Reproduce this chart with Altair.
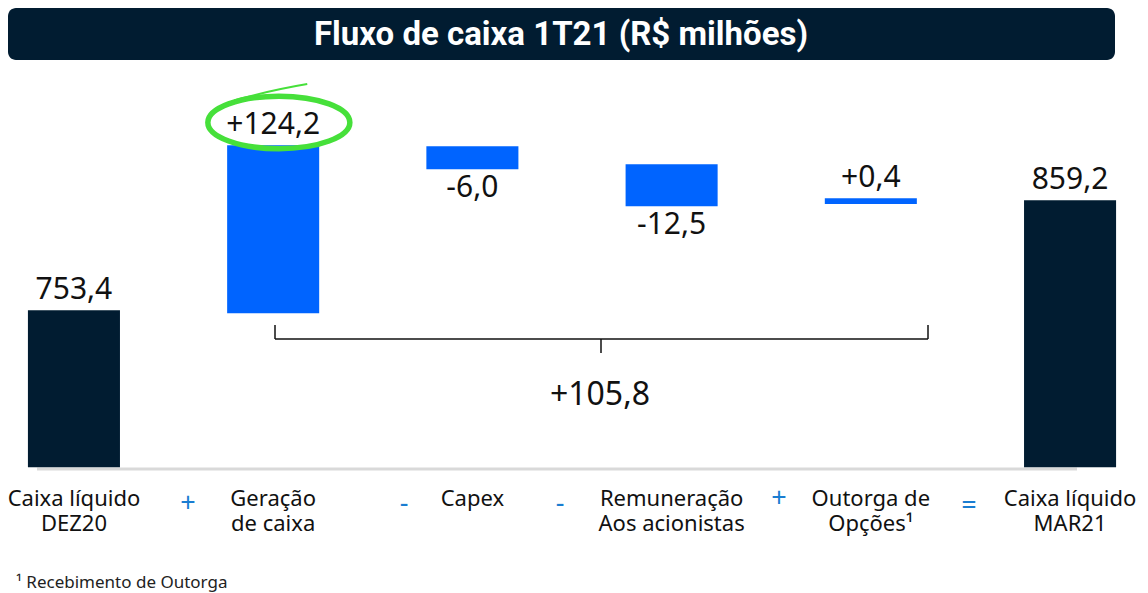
import altair as alt
import pandas as pd

# ---------------- data ----------------
categories = ["Caixa líquido DEZ20", "Geração de caixa", "Capex",
              "Remuneração Aos acionistas", "Outorga de Opções¹", "Caixa líquido MAR21"]
category_lines = ["Caixa líquido\nDEZ20", "Geração\nde caixa", "Capex",
                  "Remuneração\nAos acionistas", "Outorga de\nOpções¹", "Caixa líquido\nMAR21"]
kinds = ["total", "change", "change", "change", "change", "total"]
values = [753.4, 124.2, -6.0, -12.5, 0.4, 859.2]
# bar extents as drawn (broken / stylised axis, R$ milhões)
bar_bottom = [602.4, 750.5, 889.0, 853.4, 855.4, 602.4]
bar_top = [753.4, 912.1, 911.1, 893.8, 861.1, 859.2]
operators = ["+", "-", "-", "+", "="]
net_change = [105.8]
title_text = ["Fluxo de caixa 1T21 (R$ milhões)"]
footnote_text = ["¹ Recebimento de Outorga"]

# ---------------- styling / layout ----------------
NAVY = "#011c31"
BLUE = "#0064ff"
GREEN = "#46e03a"
OPBLUE = "#1a7dd1"
W, H = 1132, 585
PXU = 110 / 105.8          # pixels per R$ milhão
Y_TOP = 1044.0
y_scale = alt.Scale(domain=[Y_TOP - H / PXU, Y_TOP], zero=False, nice=False)
x_scale = alt.Scale(domain=categories, paddingInner=0.538, paddingOuter=0.1,
                    range=[0, 1128])


def P(v):
    """page coordinate -> plot coordinate (8px page margin)"""
    return v - 8


def fmt(v, kind):
    s = f"{abs(v):.1f}".replace(".", ",")
    if kind == "change":
        s = ("+" if v >= 0 else "-") + s
    return s


df = pd.DataFrame({
    "category": categories,
    "lines": category_lines,
    "kind": kinds,
    "value": values,
    "bottom": bar_bottom,
    "top": bar_top,
})
df["label"] = [fmt(v, k) for v, k in zip(values, kinds)]
df["anchor"] = [t if v >= 0 else b for v, t, b in zip(values, bar_top, bar_bottom)]
df["sign"] = ["pos" if v >= 0 else "neg" for v in values]

base = alt.Chart(df)
X = alt.X("category:N", sort=categories, scale=x_scale, axis=None)

# title bar
title_df = pd.DataFrame({"t": title_text})
title_rect = alt.Chart(title_df).mark_rect(color=NAVY, cornerRadius=8).encode(
    x=alt.value(P(8)), x2=alt.value(P(1115)), y=alt.value(P(8)), y2=alt.value(P(60)))
title_txt = alt.Chart(title_df).mark_text(
    font="Roboto", fontSize=33, fontWeight="bold", color="white",
    align="center", baseline="middle").encode(
    x=alt.value(P(561)), y=alt.value(P(35)), text="t:N")

# baseline shadow
baseline = alt.Chart(title_df).mark_rule(color="#d9d9d9", strokeWidth=3).encode(
    x=alt.value(P(37)), x2=alt.value(P(1077)), y=alt.value(P(469)))

bars = base.mark_bar().encode(
    x=X,
    y=alt.Y("bottom:Q", scale=y_scale, axis=None),
    y2="top:Q",
    color=alt.Color("kind:N", scale=alt.Scale(domain=["total", "change"], range=[NAVY, BLUE]), legend=None),
)

# green highlight ellipse around +124,2
ellipse_path = "M -0.92 -0.32 A 1 0.37 0 1 0 1.08 -0.32 A 1 0.37 0 1 0 -0.92 -0.32"
tail_path = "M -0.55 -0.63 Q 0.0 -0.78 0.48 -0.86"
hl = base.transform_filter(alt.datum.category == "Geração de caixa")
ellipse = hl.mark_point(shape=ellipse_path, size=142 * 142, filled=False,
                        color=GREEN, strokeWidth=5.5, opacity=1).encode(
    x=X, y=alt.Y("top:Q", scale=y_scale, axis=None))
tail = hl.mark_point(shape=tail_path, size=142 * 142, filled=False,
                     color=GREEN, strokeWidth=2, opacity=1).encode(
    x=X, y=alt.Y("top:Q", scale=y_scale, axis=None))

lbl_pos = base.transform_filter(alt.datum.sign == "pos").mark_text(
    font="Noto Sans", fontSize=30, color="#111111", align="center",
    baseline="alphabetic", dy=-11).encode(
    x=X, y=alt.Y("anchor:Q", scale=y_scale, axis=None), text="label:N")
lbl_neg = base.transform_filter(alt.datum.sign == "neg").mark_text(
    font="Noto Sans", fontSize=30, color="#111111", align="center",
    baseline="alphabetic", dy=28).encode(
    x=X, y=alt.Y("anchor:Q", scale=y_scale, axis=None), text="label:N")

cat_labels = base.mark_text(
    font="Noto Sans", fontSize=22, color="#111111", align="center",
    baseline="alphabetic", lineBreak="\n", lineHeight=25).encode(
    x=X, y=alt.value(P(506)), text="lines:N")

op_x = [188, 404, 560, 779, 969]
op_y = [512, 512, 512, 507, 514]
op_layers = []
for i, (ox, oy) in enumerate(zip(op_x, op_y)):
    op_layers.append(
        alt.Chart(pd.DataFrame({"op": [operators[i]]})).mark_text(
            font="Noto Sans", fontSize=27, color=OPBLUE, align="center",
            baseline="alphabetic").encode(
            x=alt.value(P(ox)), y=alt.value(P(oy)), text="op:N"))

# bracket under the changes
net_labels = ["+" + f"{v:.1f}".replace(".", ",") for v in net_change]
br_df = pd.DataFrame({"v": net_change, "t": net_labels})
br_style = dict(color="#111111", strokeWidth=1.5)
br_h = alt.Chart(br_df).mark_rule(**br_style).encode(
    x=alt.value(P(275)), x2=alt.value(P(928)), y=alt.value(P(339)))
br_l = alt.Chart(br_df).mark_rule(**br_style).encode(
    x=alt.value(P(275)), y=alt.value(P(325)), y2=alt.value(P(339)))
br_r = alt.Chart(br_df).mark_rule(**br_style).encode(
    x=alt.value(P(928)), y=alt.value(P(325)), y2=alt.value(P(339)))
br_c = alt.Chart(br_df).mark_rule(**br_style).encode(
    x=alt.value(P(601)), y=alt.value(P(339)), y2=alt.value(P(353)))
net_txt = alt.Chart(br_df).mark_text(
    font="Noto Sans", fontSize=32, color="#111111", align="center",
    baseline="alphabetic").encode(
    x=alt.value(P(600)), y=alt.value(P(405)), text="t:N")

foot = alt.Chart(pd.DataFrame({"t": footnote_text})).mark_text(
    font="Noto Sans", fontSize=17, color="#222222", align="left",
    baseline="alphabetic").encode(
    x=alt.value(P(16)), y=alt.value(P(588)), text="t:N")

chart = alt.layer(
    title_rect, title_txt, baseline, bars, ellipse, tail, lbl_pos, lbl_neg,
    cat_labels, *op_layers, br_h, br_l, br_r, br_c, net_txt, foot
).properties(
    width=W, height=H, autosize=alt.AutoSizeParams(type="none"), padding=0
).configure_view(stroke=None)

chart.save("out.html", embed_options={"renderer": "svg", "actions": False})
